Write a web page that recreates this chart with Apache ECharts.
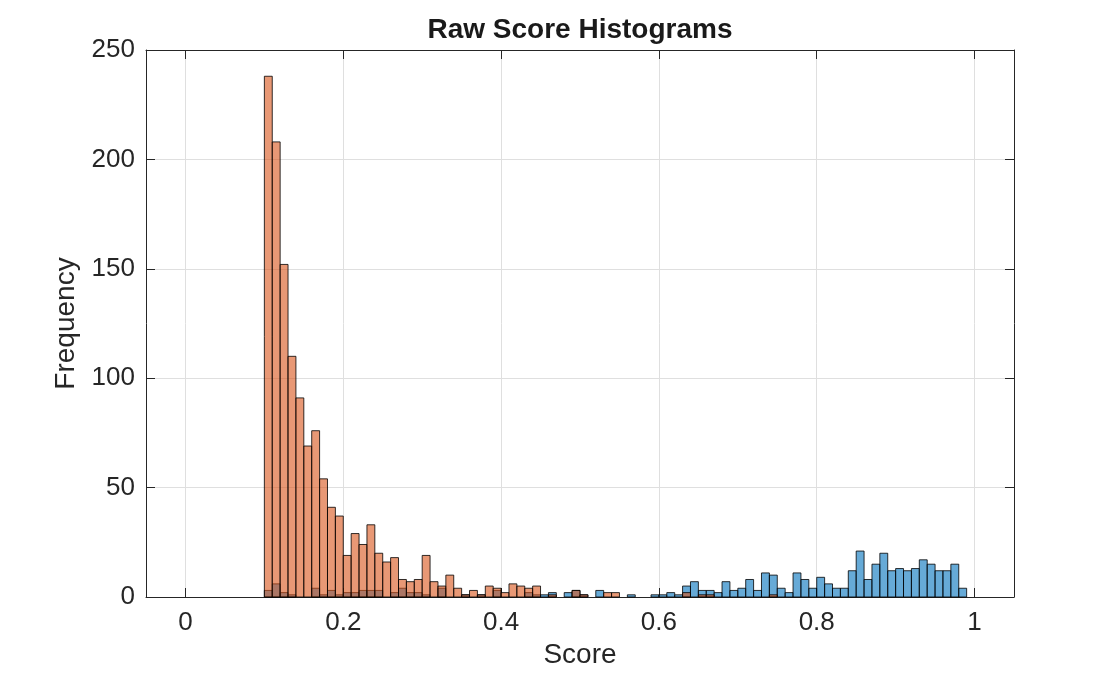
<!DOCTYPE html>
<html>
<head>
<meta charset="utf-8">
<script src="https://cdn.jsdelivr.net/npm/echarts@6/dist/echarts.min.js"></script>
<style>
  html, body { margin: 0; padding: 0; background: #fff; }
  #chart { width: 1120px; height: 674px; }
</style>
</head>
<body>
<div id="chart"></div>
<script>
// histogram bins: 0.10 .. 0.99, width 0.01
const firstEdge = 0.1;
const binWidth = 0.01;

// counts per bin
const negCounts = [
  238, 208, 152, 110, 91, 69, 76, 54, 41, 37,
  19, 29, 24, 33, 20, 16, 18, 8, 7, 8,
  19, 7, 5, 10, 4, 1, 3, 1, 5, 4,
  2, 6, 5, 4, 5, 0, 1, 0, 0, 3,
  1, 0, 0, 2, 2, 0, 0, 0, 0, 0,
  0, 0, 0, 2, 0, 1, 1, 0, 0, 0,
  0, 0, 0, 0, 1, 0, 0, 0, 0, 0,
  0, 0, 0, 0, 0, 0, 0, 0, 0, 0,
  0, 0, 0, 0, 0, 0, 0, 0, 0
];
const posCounts = [
  3, 6, 2, 1, 0, 0, 4, 1, 3, 1,
  2, 2, 3, 3, 3, 0, 2, 4, 2, 2,
  1, 0, 4, 0, 0, 1, 0, 1, 0, 3,
  0, 0, 0, 2, 1, 1, 2, 0, 2, 3,
  1, 0, 3, 0, 0, 0, 1, 0, 0, 1,
  1, 2, 1, 5, 7, 3, 3, 2, 7, 3,
  4, 8, 3, 11, 10, 4, 2, 11, 8, 4,
  9, 6, 4, 4, 12, 21, 8, 15, 20, 12,
  13, 12, 13, 17, 15, 12, 12, 15, 4
];

const xTicks = [0, 0.2, 0.4, 0.6, 0.8, 1];

function toBins(counts) {
  const out = [];
  counts.forEach(function (c, i) {
    if (c > 0) out.push([+(firstEdge + i * binWidth).toFixed(2), c]);
  });
  return out;
}

function histItem(fill) {
  return function (params, api) {
    const x0 = api.value(0);
    const top = api.coord([x0, api.value(1)]);
    const bot = api.coord([x0 + binWidth, 0]);
    return {
      type: "rect",
      shape: { x: top[0], y: top[1], width: bot[0] - top[0], height: bot[1] - top[1] },
      style: { fill: fill, stroke: "rgba(0,0,0,0.8)", lineWidth: 1 },
    };
  };
}

const axisColor = "#262626";
const gridColor = "#dfdfdf";
const font = "Liberation Sans";

let chart = echarts.init(document.getElementById("chart"));

var option = {
  animation: false,
  textStyle: { fontFamily: font },
  graphic: [
    {
      type: "text",
      x: 580,
      y: 16,
      style: {
        text: "Raw Score Histograms",
        textAlign: "center",
        textVerticalAlign: "top",
        font: "bold 28px 'Liberation Sans'",
        fill: "#1a1a1a",
      },
    },
  ],
  grid: { left: 146, right: 106, top: 50, bottom: 76 },
  xAxis: [
    {
      type: "value",
      min: -0.05,
      max: 1.05,
      name: "Score",
      nameLocation: "middle",
      nameGap: 44,
      nameTextStyle: { fontSize: 28, color: axisColor },
      axisLine: { onZero: false, lineStyle: { color: axisColor } },
      axisTick: { inside: true, length: 9, customValues: xTicks, lineStyle: { color: axisColor } },
      axisLabel: { customValues: xTicks, fontSize: 26, color: axisColor, margin: 13 },
      splitLine: { show: true, lineStyle: { color: gridColor } },
    },
    {
      type: "value",
      position: "top",
      min: -0.05,
      max: 1.05,
      axisLine: { onZero: false, lineStyle: { color: axisColor } },
      axisTick: { inside: true, length: 9, customValues: xTicks, lineStyle: { color: axisColor } },
      axisLabel: { show: false },
      splitLine: { show: false },
    },
  ],
  yAxis: [
    {
      type: "value",
      min: 0,
      max: 250,
      interval: 50,
      name: "Frequency",
      nameLocation: "middle",
      nameGap: 64,
      nameTextStyle: { fontSize: 28, color: axisColor },
      axisLine: { show: true, onZero: false, lineStyle: { color: axisColor } },
      axisTick: { show: true, inside: true, length: 9, lineStyle: { color: axisColor } },
      axisLabel: { fontSize: 26, color: axisColor, margin: 11 },
      splitLine: { show: true, lineStyle: { color: gridColor } },
    },
    {
      type: "value",
      position: "right",
      min: 0,
      max: 250,
      interval: 50,
      axisLine: { show: true, onZero: false, lineStyle: { color: axisColor } },
      axisTick: { show: true, inside: true, length: 9, lineStyle: { color: axisColor } },
      axisLabel: { show: false },
      splitLine: { show: false },
    },
  ],
  series: [
    {
      name: "Positive",
      type: "custom",
      renderItem: histItem("rgba(0,114,189,0.6)"),
      encode: { x: 0, y: 1 },
      data: toBins(posCounts),
      z: 2,
    },
    {
      name: "Negative",
      type: "custom",
      renderItem: histItem("rgba(217,83,25,0.6)"),
      encode: { x: 0, y: 1 },
      data: toBins(negCounts),
      z: 3,
    },
  ],
};

chart.setOption(option);
</script>
</body>
</html>
